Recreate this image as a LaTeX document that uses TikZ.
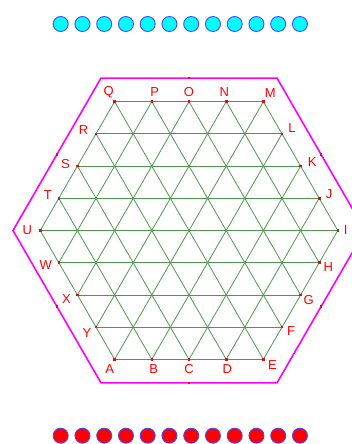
\documentclass[tikz,border=0pt]{standalone}
\usepackage{fontspec}
\setmainfont{Liberation Sans}
\usetikzlibrary{calc}
\definecolor{gridgreen}{RGB}{80,150,80}
\definecolor{ballblue}{RGB}{70,70,255}
\definecolor{dotred}{RGB}{210,20,20}
\definecolor{ballcyan}{RGB}{0,255,255}
\definecolor{ballred}{RGB}{255,0,0}
\definecolor{hexmag}{RGB}{255,0,255}
\definecolor{labred}{RGB}{255,0,0}
\begin{document}
\begin{tikzpicture}[x=1pt,y=-1pt,
  gridline/.style={draw=gridgreen,line width=0.8pt},
  hexline/.style={draw=hexmag,line width=1.6pt,line join=miter},
  ptdot/.style={fill=dotred,inner sep=0pt,minimum size=2.6pt,rectangle},
  lab/.style={text=labred,inner sep=0pt,font=\fontsize{13}{15}\selectfont},
  topball/.style={circle,draw=ballblue,fill=ballcyan,line width=0.9pt,minimum size=15pt,inner sep=0pt},
  botball/.style={circle,draw=ballblue,fill=ballred,line width=0.9pt,minimum size=15pt,inner sep=0pt}]
\useasboundingbox (0,0) rectangle (352,444);
\def\cx{189}\def\cy{230.5}\def\ua{37.2}\def\uh{32.22}
% balls
\foreach \j in {0,...,11} {
  \node[topball] (t\j) at ({60.7+\j*21.75},24) {};
  \node[botball] (b\j) at ({60.7+\j*21.75},435.7) {};
}
% outer hexagon
\coordinate (h1) at ({\cx-176},\cy);
\coordinate (h2) at ({\cx-88},{\cy-152.4});
\coordinate (h3) at ({\cx+88},{\cy-152.4});
\coordinate (h4) at ({\cx+176},\cy);
\coordinate (h5) at ({\cx+88},{\cy+152.4});
\coordinate (h6) at ({\cx-88},{\cy+152.4});
\draw[hexline] (h1) -- (h2) -- (h3) -- (h4) -- (h5) -- (h6) -- cycle;
\foreach \u/\v in {h1/h2,h2/h3,h3/h4,h4/h5,h5/h6,h6/h1}
  \node[ptdot] (m\u) at ($(\u)!0.5!(\v)$) {};
% boundary points
\foreach \n/\i/\k in {Q/-2/-4,P/-1/-4,O/0/-4,N/1/-4,M/2/-4,L/2.5/-3,K/3/-2,J/3.5/-1,I/4/0,H/3.5/1,G/3/2,F/2.5/3,E/2/4,D/1/4,C/0/4,B/-1/4,A/-2/4,Y/-2.5/3,X/-3/2,W/-3.5/1,U/-4/0,T/-3.5/-1,S/-3/-2,R/-2.5/-3}
  \coordinate (\n) at ({\cx+\i*\ua},{\cy+\k*\uh});
% grid
\foreach \p/\q in {Q/M,R/L,S/K,T/J,U/I,W/H,X/G,Y/F,A/E,U/A,T/B,S/C,R/D,Q/E,P/F,O/G,N/H,M/I,M/A,N/Y,O/X,P/W,Q/U,L/B,K/C,J/D,I/E}
  \draw[gridline] (\p) -- (\q);
% dots and labels
\foreach \n/\dx/\dy in {Q/-6/-9,P/3/-10,O/0/-10,N/-2/-10,M/7/-9,L/10/-5.5,K/11.5/-4,J/10/-4,I/8/0,H/9/4,G/8/5,F/9/3.5,E/9/6,D/1/10,C/0/10,B/2/10,A/-5/10,Y/-9/6,X/-11/4,W/-13/2,U/-13/0,T/-11/-3.5,S/-12/-2,R/-12.5/-3.5} {
  \node[ptdot] (d\n) at (\n) {};
  \node[lab] (l\n) at ($(\n)+(\dx,\dy)$) {\n};
}
\end{tikzpicture}
\end{document}
